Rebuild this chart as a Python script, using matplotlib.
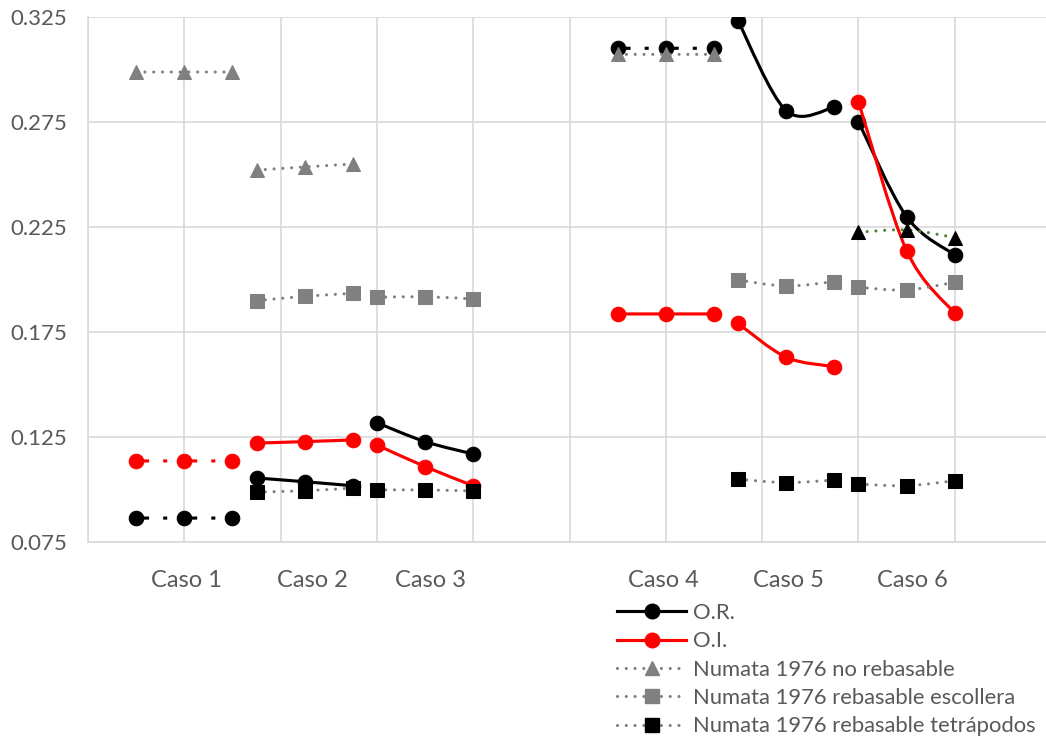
import matplotlib
matplotlib.use("Agg")
import matplotlib.pyplot as plt
from matplotlib.path import Path
from matplotlib.patches import PathPatch
from matplotlib.lines import Line2D
from matplotlib.ticker import FixedLocator, FuncFormatter

# ---------------- data ----------------
casos = ["Caso 1", "Caso 2", "Caso 3", "Caso 4", "Caso 5", "Caso 6"]
x_vals = [[0.5, 1.0, 1.5], [1.75, 2.25, 2.75], [3.0, 3.5, 4.0],
          [5.5, 6.0, 6.5], [6.75, 7.25, 7.75], [8.0, 8.5, 9.0]]
or_vals = [[0.0864, 0.0864, 0.0864], [0.1055, 0.1037, 0.1018], [0.1318, 0.1228, 0.1169],
           [0.3101, 0.3101, 0.3101], [0.3232, 0.2804, 0.2820], [0.2752, 0.2299, 0.2117]]
oi_vals = [[0.1136, 0.1136, 0.1136], [0.1221, 0.1228, 0.1236], [0.1212, 0.1109, 0.1018],
           [0.1836, 0.1836, 0.1836], [0.1791, 0.1630, 0.1585], [0.2847, 0.2138, 0.1839]]
no_reb_vals = [[0.2988, 0.2988, 0.2988], [0.2521, 0.2536, 0.2550], None,
               [0.3072, 0.3072, 0.3072], None, [0.2225, 0.2236, 0.2200]]
escollera_vals = [None, [0.1899, 0.1920, 0.1934], [0.1915, 0.1918, 0.1907],
                  None, [0.1998, 0.1969, 0.1990], [0.1963, 0.1950, 0.1987]]
tetrapodos_vals = [None, [0.0988, 0.0994, 0.1007], [0.0998, 0.0998, 0.0993],
                   None, [0.1049, 0.1033, 0.1045], [0.1026, 0.1018, 0.1042]]
# cases drawn with dash-dot lines for O.R. / O.I.
or_dashdot = [True, False, False, True, False, False]
oi_dashdot = [True, False, False, False, False, False]
series_labels = ["O.R.", "O.I.", "Numata 1976 no rebasable",
                 "Numata 1976 rebasable escollera", "Numata 1976 rebasable tetrápodos"]
y_ticks = [0.075, 0.125, 0.175, 0.225, 0.275, 0.325]

# ---------------- style ----------------
FONT = "Lato"
TXT = "#595959"
GRID = "#d9d9d9"
GRAY = "#808080"
GREEN = "#548235"
plt.rcParams["font.family"] = [FONT, "DejaVu Sans"]

LW = 2.25
DOT = (0, (0.01, 2.8))
DASHDOT = (0.96, (5.1, 4.5, 1.3, 4.5))
MS_C = 10.5
MS_S = 10.5
MS_T = 10.0

fig = plt.figure(figsize=(10.46, 7.40), dpi=100)
ax = fig.add_axes([88 / 1046, (740 - 542) / 740, 963 / 1046, 525 / 740])
ax.set_xlim(0, 10)
ax.set_ylim(0.075, 0.325)


def smooth_path(xs, ys):
    pts = list(zip(xs, ys))
    n = len(pts)
    verts = [pts[0]]
    codes = [Path.MOVETO]
    for i in range(n - 1):
        p0 = pts[i - 1] if i > 0 else pts[i]
        p1 = pts[i]
        p2 = pts[i + 1]
        p3 = pts[i + 2] if i + 2 < n else pts[i + 1]
        c1 = (p1[0] + (p2[0] - p0[0]) / 6, p1[1] + (p2[1] - p0[1]) / 6)
        c2 = (p2[0] - (p3[0] - p1[0]) / 6, p2[1] - (p3[1] - p1[1]) / 6)
        verts += [c1, c2, p2]
        codes += [Path.CURVE4] * 3
    return Path(verts, codes)


def draw(xs, ys, color, ls, mcolor, marker, ms, z):
    cap = "butt" if ls is DASHDOT else "round"
    patch = PathPatch(smooth_path(xs, ys), fill=False, edgecolor=color, lw=LW,
                      linestyle=ls, capstyle=cap, joinstyle="round", zorder=z)
    ax.add_patch(patch)
    ax.plot(xs, ys, linestyle="none", marker=marker, ms=ms, mfc=mcolor, mec=mcolor,
            mew=0.75, zorder=z + 0.5)


for i in range(len(casos)):
    xs = x_vals[i]
    draw(xs, or_vals[i], "black", DASHDOT if or_dashdot[i] else "solid", "black", "o", MS_C, 3)
    draw(xs, oi_vals[i], "#ff0000", DASHDOT if oi_dashdot[i] else "solid", "#ff0000", "o", MS_C, 4)
    if no_reb_vals[i] is not None:
        special = i == 5
        draw(xs, no_reb_vals[i], GREEN if special else GRAY, DOT,
             "black" if special else GRAY, "^", MS_T, 5)
    if escollera_vals[i] is not None:
        draw(xs, escollera_vals[i], GRAY, DOT, GRAY, "s", MS_S, 6)
    if tetrapodos_vals[i] is not None:
        draw(xs, tetrapodos_vals[i], GRAY, DOT, "black", "s", MS_S, 7)

# grid / axes
ax.xaxis.set_major_locator(FixedLocator(range(0, 11)))
ax.yaxis.set_major_locator(FixedLocator(y_ticks))
ax.yaxis.set_major_formatter(FuncFormatter(lambda v, p: f"{v:.3f}"))
ax.set_xticklabels([])
ax.grid(True, color=GRID, lw=1.2, zorder=0)
ax.set_axisbelow(True)
ax.tick_params(length=0, labelsize=16, labelcolor=TXT, pad=15)
for s in ["top", "right"]:
    ax.spines[s].set_visible(False)
for s in ["left", "bottom"]:
    ax.spines[s].set_color(GRID)
    ax.spines[s].set_linewidth(1.2)

# case labels
case_label_x = [1.02, 2.33, 3.56, 5.98, 7.27, 8.56]
for name, xp in zip(casos, case_label_x):
    ax.text(xp, -0.074, name, transform=ax.get_xaxis_transform(), ha="center",
            va="center", fontsize=17, color=TXT, clip_on=False)

# legend
handles = [
    Line2D([], [], color="black", lw=LW, marker="o", ms=MS_C, mfc="black", mec="black"),
    Line2D([], [], color="#ff0000", lw=LW, marker="o", ms=MS_C, mfc="#ff0000", mec="#ff0000"),
    Line2D([], [], color=GRAY, lw=LW, linestyle=DOT, dash_capstyle="round", marker="^",
           ms=MS_T, mfc=GRAY, mec=GRAY),
    Line2D([], [], color=GRAY, lw=LW, linestyle=DOT, dash_capstyle="round", marker="s",
           ms=MS_S, mfc=GRAY, mec=GRAY),
    Line2D([], [], color=GRAY, lw=LW, linestyle=DOT, dash_capstyle="round", marker="s",
           ms=MS_S, mfc="black", mec="black"),
]
leg = fig.legend(handles, series_labels, loc="upper left",
                 bbox_to_anchor=(617 / 1046, 1 - 603 / 740), frameon=False,
                 fontsize=15.8, handlelength=3.15, handletextpad=0.3,
                 labelspacing=0.38, borderpad=0, borderaxespad=0)
for t in leg.get_texts():
    t.set_color(TXT)

fig.savefig("out.png", dpi=100)
